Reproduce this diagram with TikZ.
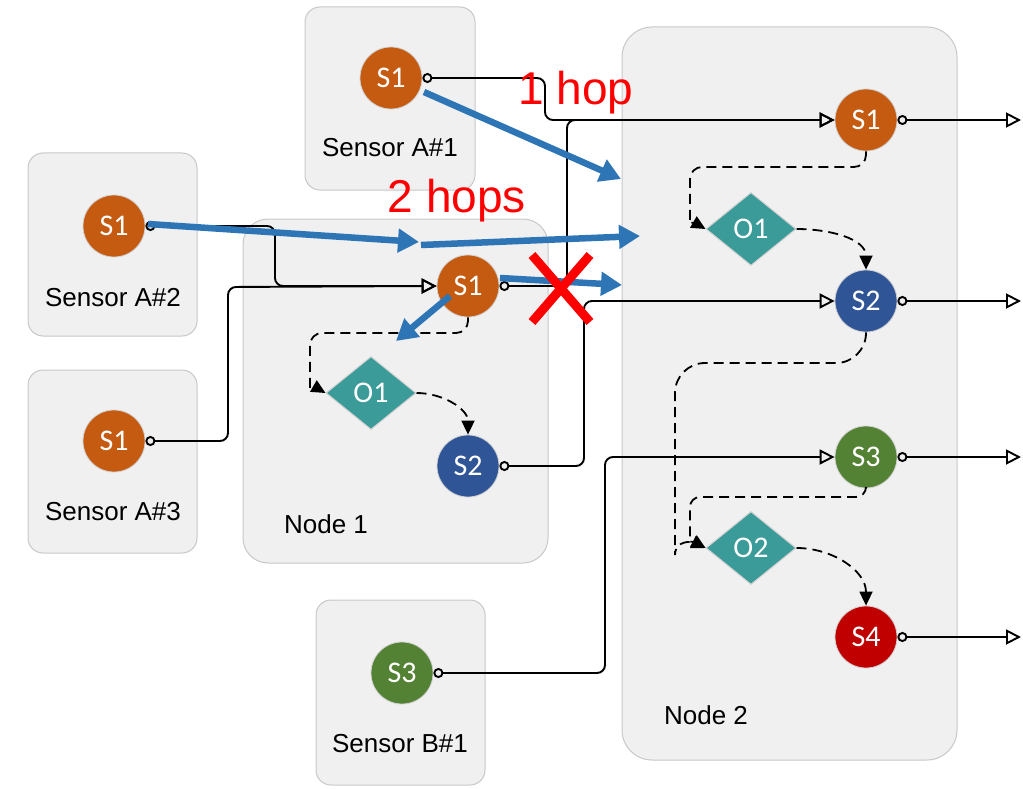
\documentclass[tikz,border=0pt]{standalone}
\usepackage{fontspec}
\setmainfont{Liberation Sans}
\newfontfamily\circfont{Carlito}
\usetikzlibrary{arrows.meta,shapes.geometric}
\definecolor{boxfill}{HTML}{F0F0F0}
\definecolor{boxline}{HTML}{C8C8C8}
\definecolor{sorange}{HTML}{C55A11}
\definecolor{sblue}{HTML}{2F5597}
\definecolor{sgreen}{HTML}{548235}
\definecolor{sred}{HTML}{C00000}
\definecolor{opteal}{HTML}{3A9B99}
\definecolor{flowblue}{HTML}{2E75B6}
\tikzset{
  container/.style={draw=boxline, fill=boxfill, line width=1pt},
  stream/.style={circle, minimum size=62pt, inner sep=0pt, draw=black!18, line width=0.8pt,
    text=white, font=\circfont\fontsize{30}{33}\selectfont},
  op/.style={diamond, minimum width=90pt, minimum height=73pt, inner sep=0pt, fill=opteal,
    draw=black!18, line width=1pt, text=white, font=\circfont\fontsize{30}{33}\selectfont},
  caption/.style={font=\fontsize{26}{30}\selectfont, text=black},
  wire/.style={draw=black, line width=1.9pt, rounded corners=8pt,
    {Circle[open,length=10pt,width=10pt]}-{Triangle[open,length=15pt,width=15pt]}},
  dep/.style={draw=black, line width=1.8pt, dash pattern=on 10pt off 6pt,
    -{Triangle[length=14pt,width=13pt]}},
  flow/.style={draw=flowblue, line width=6.5pt, -{Triangle[length=21pt,width=23pt]}},
  hoplabel/.style={text=red, font=\fontsize{46}{50}\selectfont},
}
\begin{document}
\begin{tikzpicture}[x=1pt,y=-1pt]
\useasboundingbox (0,0) rectangle (1023,789);

% containers
\draw[container, rounded corners=15pt] (305,7) rectangle (475,190);
\draw[container, rounded corners=15pt] (28,153) rectangle (197,336);
\draw[container, rounded corners=15pt] (28,370) rectangle (197,553);
\draw[container, rounded corners=25pt] (243,219) rectangle (548,563);
\draw[container, rounded corners=15pt] (316,600) rectangle (485,785);
\draw[container, rounded corners=30pt] (622,27) rectangle (957,760);

\node[caption] (capA1) at (390,148) {Sensor A\#1};
\node[caption] (capA2) at (113,298) {Sensor A\#2};
\node[caption] (capA3) at (113,512) {Sensor A\#3};
\node[caption] (capN1) at (326,524) {Node 1};
\node[caption] (capN2) at (706,715) {Node 2};
\node[caption] (capB1) at (400,744) {Sensor B\#1};

% stream and operator nodes
\node[stream, fill=sorange] (a1s1) at (391,78) {S1};
\node[stream, fill=sorange] (a2s1) at (114,226) {S1};
\node[stream, fill=sorange] (a3s1) at (114,441) {S1};
\node[stream, fill=sgreen] (b1s3) at (402,673) {S3};

\node[stream, fill=sorange] (n1s1) at (468,286) {S1};
\node[op] (n1o1) at (371,393) {O1};
\node[stream, fill=sblue] (n1s2) at (468,466) {S2};

\node[stream, fill=sorange] (n2s1) at (866,120) {S1};
\node[op] (n2o1) at (751,229) {O1};
\node[stream, fill=sblue] (n2s2) at (866,301) {S2};
\node[stream, fill=sgreen] (n2s3) at (866,457) {S3};
\node[op] (n2o2) at (751,548) {O2};
\node[stream, fill=sred] (n2s4) at (866,637) {S4};

% free ends of outgoing wires
\coordinate (out1) at (1021,120);
\coordinate (out2) at (1021,301);
\coordinate (out3) at (1021,457);
\coordinate (out4) at (1021,637);

% wiring between streams
\draw[wire] (a1s1.east) -- (545,78) -- (545,120) -- (n2s1.west);
\draw[wire] (n1s1.east) -- (567,286) -- (567,120) -- (n2s1.west);
\draw[wire] (a2s1.east) -- (275,226) -- (275,286) -- (n1s1.west);
\draw[wire] (a3s1.east) -- (228,441) -- (228,287) -- (n1s1.west);
\draw[wire] (n1s2.east) -- (584,466) -- (584,301) -- (n2s2.west);
\draw[wire] (b1s3.east) -- (605,673) -- (605,457) -- (n2s3.west);
\draw[wire] (n2s1.east) -- (out1);
\draw[wire] (n2s2.east) -- (out2);
\draw[wire] (n2s3.east) -- (out3);
\draw[wire] (n2s4.east) -- (out4);

% operator dependencies
\draw[dep, rounded corners=12pt] (n1s1.south) -- (468,333) -- (310,333) -- (310,376) to[out=-90,in=150] (n1o1.west);
\draw[dep] (n1o1.east) to[out=0,in=90] (n1s2.north);
\draw[dep, rounded corners=12pt] (n2s1.south) -- (866,167) -- (690,167) -- (690,212) to[out=-90,in=150] (n2o1.west);
\draw[dep] (n2o1.east) to[out=0,in=90] (n2s2.north);
\draw[dep, rounded corners=30pt] (n2s2.south) -- (866,363) -- (675,363) -- (675,525) to[out=-90,in=155] (n2o2.west);
\draw[dep, rounded corners=10pt] (n2s3.south) -- (866,497) -- (690,497) -- (690,532) to[out=-90,in=150] (n2o2.west);
\draw[dep] (n2o2.east) to[out=0,in=90] (n2s4.north);

% data flow arrows
\coordinate (f1s) at (424,92);
\coordinate (f1e) at (621,179);
\coordinate (f2s) at (148,224);
\coordinate (f2m) at (419,242);
\coordinate (f3s) at (421,245);
\coordinate (f3e) at (640,236);
\coordinate (f4s) at (500,278);
\coordinate (f4e) at (622,285);
\coordinate (f5s) at (450,296);
\coordinate (f5e) at (396,341);
\draw[flow] (f1s) -- (f1e);
\draw[flow] (f2s) -- (f2m);
\draw[flow] (f3s) -- (f3e);
\draw[flow] (f4s) -- (f4e);
\draw[flow] (f5s) -- (f5e);

% blocked path marker
\coordinate (xa) at (532,255);
\coordinate (xb) at (590,322);
\coordinate (xc) at (590,255);
\coordinate (xd) at (532,322);
\draw[red, line width=9pt] (xa) -- (xb);
\draw[red, line width=9pt] (xc) -- (xd);

\node[hoplabel] (hop1) at (576,93) {1 hop};
\node[hoplabel] (hop2) at (457,201) {2 hops};
\end{tikzpicture}
\end{document}
